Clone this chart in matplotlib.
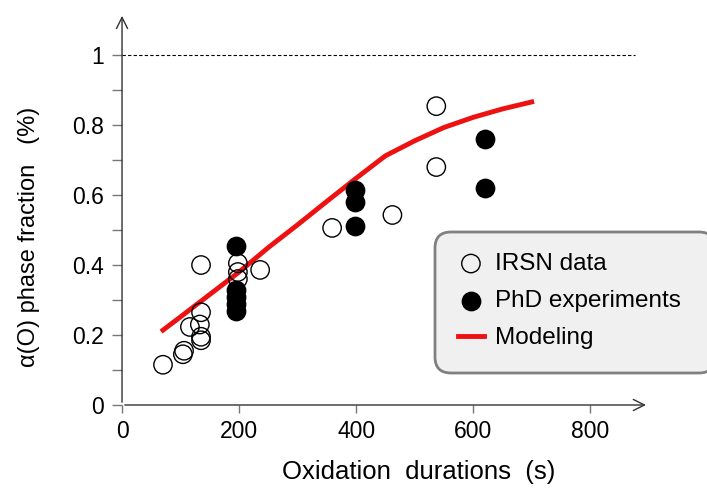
import numpy as np
import matplotlib.pyplot as plt
from matplotlib.patches import FancyBboxPatch
from matplotlib.transforms import IdentityTransform

plt.rcParams['font.family'] = ['Liberation Sans', 'DejaVu Sans']

# IRSN data (open circles)
irsn_x = [70, 104, 106, 116, 133, 135, 135, 135, 135, 198, 198, 198, 236, 359, 462, 537, 537]
irsn_y = [0.115, 0.145, 0.155, 0.223, 0.23, 0.195, 0.185, 0.265, 0.40, 0.405, 0.38, 0.36, 0.386, 0.506, 0.543, 0.68, 0.854]

# PhD experiments (filled circles)
phd_x = [195, 195, 195, 195, 195, 398, 398, 398, 620, 620]
phd_y = [0.454, 0.33, 0.31, 0.29, 0.27, 0.614, 0.58, 0.512, 0.62, 0.76]

# Modeling curve
model_x = [70, 100, 150, 200, 250, 300, 350, 400, 450, 500, 550, 600, 650, 700]
model_y = [0.214, 0.252, 0.316, 0.38, 0.45, 0.515, 0.582, 0.648, 0.712, 0.755, 0.793, 0.822, 0.846, 0.866]

xticks = [0, 200, 400, 600, 800]
yticks = [0, 0.2, 0.4, 0.6, 0.8, 1]
ytick_labels = ['0', '0.2', '0.4', '0.6', '0.8', '1']
yminor = [0.1, 0.3, 0.5, 0.7, 0.9]

fig = plt.figure(figsize=(7.07, 4.93), dpi=100)
ax = fig.add_axes([0.1726, 0.1785, 0.745, 0.795])

ax.plot([0, 877], [1, 1], ls='--', color='black', lw=0.8, dashes=(3, 2))
line, = ax.plot(model_x, model_y, color='#ee1111', lw=3.5, label='Modeling', zorder=3)
irsn = ax.scatter(irsn_x, irsn_y, s=175, facecolors='none', edgecolors='black', linewidths=1,
                  label='IRSN data', zorder=4)
phd = ax.scatter(phd_x, phd_y, s=175, facecolors='black', edgecolors='black', linewidths=1,
                 label='PhD experiments', zorder=5)

ax.set_xlim(0, 900)
ax.set_ylim(0, 1.12)
ax.set_xticks(xticks)
ax.set_yticks(yticks)
ax.set_yticks(yminor, minor=True)
ax.set_yticklabels(ytick_labels)
for s in ax.spines.values():
    s.set_visible(False)
ax.tick_params(axis='x', direction='out', length=6, width=1, color='#777777', labelsize=16.5, pad=5)
ax.tick_params(axis='y', which='both', direction='out', length=7, width=1, color='#777777',
               labelsize=16.5, pad=6)

ax.annotate('', xy=(1.0, 0), xytext=(0, 0), xycoords='axes fraction',
            arrowprops=dict(arrowstyle='->', lw=1, color='#333333', mutation_scale=20))
ax.annotate('', xy=(0, 1.0), xytext=(0, 0), xycoords='axes fraction',
            arrowprops=dict(arrowstyle='->', lw=1, color='#333333', mutation_scale=20))

ax.set_xlabel('Oxidation  durations  (s)', fontsize=18.5)
ax.xaxis.set_label_coords(0.564, -0.14)
ax.set_ylabel('α(O) phase fraction   (%)', fontsize=17)
ax.yaxis.set_label_coords(-0.155, 0.43)

# legend box (rounded, light grey)
box = FancyBboxPatch((435, 120), 280, 141, boxstyle='round,pad=0,rounding_size=16',
                     transform=IdentityTransform(), facecolor='#f0f0f0', edgecolor='#808080',
                     linewidth=2, zorder=6)
fig.patches.append(box)
leg = fig.legend(handles=[irsn, phd, line], loc='center left',
                 bbox_to_anchor=(446 / 707, (493 - 301) / 493), fontsize=17.5, frameon=False,
                 handlelength=1.05, handletextpad=0.45, labelspacing=0.62, borderpad=0)
leg.set_zorder(7)

fig.savefig('out.png', dpi=100)
